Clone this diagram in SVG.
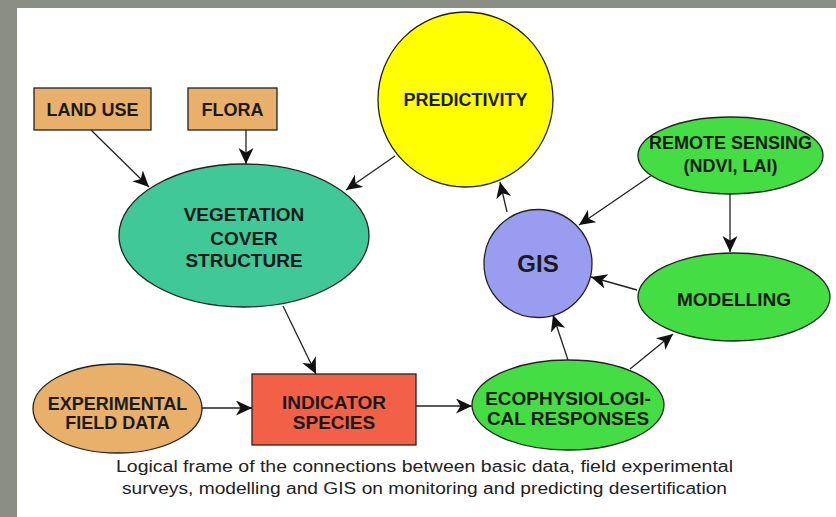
<svg xmlns="http://www.w3.org/2000/svg" width="836" height="517" viewBox="0 0 836 517">
<defs>
<style>
.n{stroke:#222;stroke-width:1.3}
.t{font-family:"Liberation Sans",Arial,sans-serif;font-weight:bold;font-size:18px;fill:#1a1a1a;text-anchor:middle}
.l{font-size:19px}
.c{stroke:#222;stroke-width:1.3;fill:none;marker-end:url(#ah)}
.cap{font-family:"Liberation Sans",Arial,sans-serif;font-size:16px;fill:#222;text-anchor:middle}
</style>
<marker id="ah" markerUnits="userSpaceOnUse" markerWidth="18" markerHeight="18" refX="16" refY="7.5" orient="auto">
<path d="M0,0 L16,7.5 L0,15 L4.5,7.5 Z" fill="#111"/>
</marker>
</defs>
<rect x="0" y="0" width="836" height="517" fill="#8b8e84"/>
<rect x="17" y="8" width="819" height="509" fill="#ffffff"/>

<g id="connectors">
<line class="c" x1="91" y1="130" x2="149" y2="187"/>
<line class="c" x1="246" y1="130" x2="246" y2="164"/>
<line class="c" x1="395" y1="156" x2="346" y2="190"/>
<line class="c" x1="283" y1="306" x2="316" y2="374"/>
<line class="c" x1="202" y1="408" x2="252" y2="408"/>
<line class="c" x1="416" y1="406" x2="472" y2="406"/>
<line class="c" x1="507" y1="212" x2="500" y2="182"/>
<line class="c" x1="652" y1="175" x2="579" y2="225"/>
<line class="c" x1="730" y1="194" x2="730" y2="252"/>
<line class="c" x1="637" y1="290" x2="591" y2="277"/>
<line class="c" x1="568" y1="360" x2="553" y2="315"/>
<line class="c" x1="630" y1="369" x2="673" y2="334"/>
</g>

<g id="land-use">
<rect class="n" x="34" y="88" width="117" height="42" fill="#e8b06a"/>
<text class="t" x="92.5" y="115.5">LAND USE</text>
</g>
<g id="flora">
<rect class="n" x="188" y="88" width="89" height="42" fill="#e8b06a"/>
<text class="t" x="232.5" y="115.5">FLORA</text>
</g>
<g id="predictivity">
<circle class="n" cx="465.5" cy="99.5" r="87.5" fill="#ffff00"/>
<text class="t" x="465.5" y="106">PREDICTIVITY</text>
</g>
<g id="vegetation">
<ellipse class="n" cx="244" cy="235.5" rx="125" ry="71.5" fill="#40c898"/>
<text class="t l" x="244" y="221">VEGETATION</text>
<text class="t l" x="244" y="244.5">COVER</text>
<text class="t l" x="244" y="266.5">STRUCTURE</text>
</g>
<g id="remote-sensing">
<ellipse class="n" cx="730.5" cy="155.5" rx="92.5" ry="38.5" fill="#44dd44"/>
<text class="t" x="730.5" y="148.5">REMOTE SENSING</text>
<text class="t" x="730.5" y="171.5">(NDVI, LAI)</text>
</g>
<g id="gis">
<circle class="n" cx="538" cy="263.5" r="54" fill="#9a9cf0"/>
<text class="t" x="538" y="272" style="font-size:24px">GIS</text>
</g>
<g id="modelling">
<ellipse class="n" cx="734" cy="297" rx="96" ry="44" fill="#44dd44"/>
<text class="t l" x="734" y="306">MODELLING</text>
</g>
<g id="experimental">
<ellipse class="n" cx="117.5" cy="408.5" rx="84.5" ry="44.5" fill="#e8b06a"/>
<text class="t" x="117.5" y="409.5">EXPERIMENTAL</text>
<text class="t" x="117.5" y="429">FIELD DATA</text>
</g>
<g id="indicator">
<rect class="n" x="252" y="374" width="164" height="71" fill="#f26048"/>
<text class="t l" x="334" y="408.5">INDICATOR</text>
<text class="t l" x="334" y="429">SPECIES</text>
</g>
<g id="ecophysiological">
<ellipse class="n" cx="568" cy="405" rx="96" ry="45" fill="#44dd44"/>
<text class="t l" x="568" y="405">ECOPHYSIOLOGI-</text>
<text class="t l" x="568" y="425">CAL RESPONSES</text>
</g>

<text class="cap" x="424.5" y="472" textLength="617" lengthAdjust="spacingAndGlyphs">Logical frame of the connections between basic data, field experimental</text>
<text class="cap" x="424.5" y="494" textLength="605" lengthAdjust="spacingAndGlyphs">surveys, modelling and GIS on monitoring and predicting desertification</text>
</svg>
